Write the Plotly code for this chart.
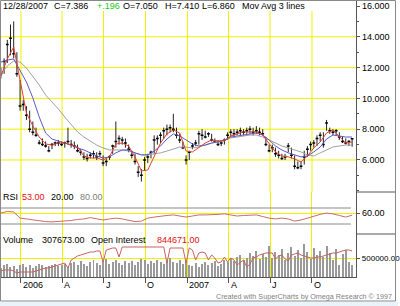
import plotly.graph_objects as go
import pandas as pd

# ---------------- data (weekly bars) ----------------
dates = pd.date_range("2005-11-18", periods=111, freq="7D")

high = [12.0, 12.6, 13.8, 14.8, 15.0, 13.0, 11.2, 9.9, 9.5, 9.2,
        8.5, 8.1, 7.3, 7.4, 7.2, 6.9, 7.1, 7.2, 7.3, 7.2,
        7.2, 8.1, 7.3, 7.2, 7.0, 6.7, 6.5, 6.4, 6.5, 6.6,
        6.5, 6.6, 6.3, 6.1, 6.3, 7.0, 8.5, 7.6, 7.5, 7.4,
        7.0, 6.6, 6.4, 5.6, 5.4, 6.2, 6.4, 6.6, 7.6, 7.6,
        7.8, 8.1, 8.3, 8.3, 9.0, 8.1, 7.7, 7.2, 6.3, 6.6,
        7.1, 7.3, 7.9, 8.0, 7.9, 7.8, 7.7, 7.4, 7.3, 7.2,
        7.4, 7.8, 8.0, 8.0, 8.0, 8.1, 8.0, 8.1, 8.2, 8.1,
        8.2, 8.1, 8.0, 7.5, 7.0, 7.0, 6.8, 6.6, 6.4, 6.4,
        7.1, 6.8, 6.3, 5.9, 5.9, 6.6, 6.9, 7.2, 7.3, 7.6,
        7.8, 7.8, 8.6, 8.1, 8.0, 8.0, 7.8, 7.5, 7.4, 7.3,
        7.41]
low = [11.3, 11.6, 12.3, 12.8, 12.6, 11.4, 9.2, 9.2, 8.6, 7.8,
       7.6, 7.5, 7.0, 6.9, 6.8, 6.5, 6.7, 6.9, 6.9, 6.9,
       6.8, 7.0, 6.8, 6.7, 6.5, 6.3, 6.0, 5.9, 6.1, 6.1,
       6.0, 6.2, 5.6, 5.6, 6.0, 6.4, 6.8, 7.0, 7.0, 6.8,
       6.5, 6.1, 5.7, 4.9, 4.6, 5.3, 5.8, 6.1, 6.4, 7.0,
       7.1, 7.4, 7.6, 7.8, 7.8, 7.4, 7.1, 6.7, 5.7, 6.0,
       6.7, 6.9, 7.0, 7.3, 7.4, 7.5, 7.2, 7.1, 6.9, 6.9,
       7.0, 7.3, 7.5, 7.5, 7.6, 7.6, 7.6, 7.7, 7.7, 7.6,
       7.7, 7.6, 7.6, 6.9, 6.5, 6.5, 6.2, 6.1, 6.0, 6.0,
       6.5, 6.1, 5.4, 5.4, 5.4, 5.7, 6.2, 6.6, 6.8, 6.9,
       7.2, 6.8, 7.9, 7.7, 7.6, 7.6, 7.3, 7.1, 7.0, 6.9,
       6.86]
close = [11.6, 12.4, 13.5, 13.9, 12.9, 11.6, 9.5, 9.6, 8.9, 8.0,
         7.8, 7.6, 7.1, 7.0, 6.9, 6.6, 7.0, 7.1, 7.1, 7.0,
         7.1, 7.2, 7.0, 6.9, 6.6, 6.5, 6.2, 6.1, 6.3, 6.4,
         6.2, 6.4, 5.8, 5.9, 6.2, 6.9, 7.2, 7.4, 7.3, 7.1,
         6.7, 6.3, 5.9, 5.2, 5.0, 6.0, 6.2, 6.5, 7.3, 7.4,
         7.6, 7.9, 8.0, 8.1, 8.0, 7.6, 7.3, 6.8, 6.0, 6.5,
         6.9, 7.1, 7.7, 7.6, 7.5, 7.7, 7.3, 7.2, 7.0, 7.1,
         7.3, 7.6, 7.8, 7.7, 7.8, 7.9, 7.8, 7.9, 8.0, 7.8,
         7.9, 7.8, 7.7, 7.0, 6.6, 6.8, 6.4, 6.3, 6.1, 6.2,
         6.9, 6.3, 5.6, 5.5, 5.6, 6.2, 6.7, 7.0, 7.1, 7.4,
         7.6, 7.0, 8.4, 7.9, 7.8, 7.9, 7.5, 7.2, 7.1, 7.2,
         7.386]

volume = [240000, 320000, 340000, 260000, 290000, 210000, 320000, 340000, 260000, 320000,
          240000, 290000, 340000, 320000, 260000, 290000, 320000, 340000, 290000, 320000,
          340000, 260000, 370000, 390000, 320000, 420000, 340000, 290000, 390000, 450000,
          370000, 320000, 420000, 470000, 340000, 390000, 450000, 370000, 320000, 420000,
          370000, 420000, 320000, 390000, 470000, 450000, 340000, 420000, 370000, 450000,
          390000, 340000, 420000, 500000, 390000, 370000, 450000, 340000, 420000, 320000,
          290000, 370000, 260000, 340000, 390000, 320000, 370000, 420000, 290000, 340000,
          450000, 390000, 470000, 420000, 530000, 580000, 450000, 500000, 630000, 550000,
          680000, 470000, 610000, 530000, 820000, 500000, 660000, 580000, 740000, 450000,
          630000, 790000, 550000, 710000, 500000, 870000, 660000, 470000, 760000, 580000,
          680000, 530000, 820000, 630000, 450000, 740000, 320000, 610000, 710000, 390000,
          307673]

open_interest = [195000, 227000, 227000, 227000, 195000, 130000, 162000, 162000, 162000, 162000,
                 162000, 195000, 227000, 260000, 292000, 292000, 325000, 357000, 390000, 422000,
                 455000, 292000, 552000, 617000, 682000, 715000, 747000, 780000, 812000, 812000,
                 845000, 845000, 487000, 877000, 910000, 942000, 942000, 650000, 975000, 975000,
                 975000, 975000, 975000, 975000, 975000, 975000, 975000, 975000, 975000, 975000,
                 975000, 975000, 455000, 942000, 942000, 942000, 942000, 942000, 455000, 942000,
                 877000, 552000, 780000, 812000, 780000, 552000, 715000, 617000, 455000, 487000,
                 650000, 487000, 617000, 552000, 390000, 487000, 552000, 325000, 422000, 617000,
                 650000, 715000, 747000, 780000, 780000, 780000, 585000, 682000, 715000, 585000,
                 520000, 715000, 747000, 780000, 715000, 682000, 650000, 617000, 617000, 650000,
                 650000, 682000, 715000, 747000, 780000, 780000, 812000, 844671, 877000, 877000,
                 844671]

ma_dates = dates[::2]
ma_fast = [11.45, 12.56, 13.34, 11.2, 9.05, 8.21, 7.49, 7.04, 6.97, 7.1,
           7.1, 6.97, 6.84, 6.26, 6.13, 6.13, 6.0, 6.2, 7.04, 7.1,
           6.91, 6.2, 5.29, 5.35, 6.2, 7.1, 7.69, 7.95, 7.75, 6.58,
           6.52, 6.84, 7.1, 7.3, 7.23, 7.23, 7.56, 7.69, 7.82, 7.82,
           7.82, 7.62, 7.1, 6.52, 6.26, 6.2, 6.07, 5.87, 6.26, 6.78,
           7.17, 7.75, 7.95, 7.49, 7.1, 7.17]
ma_mid = [12.36, 12.49, 12.56, 11.84, 11.06, 10.03, 8.79, 7.75, 7.36, 7.23,
          7.1, 6.97, 6.78, 6.65, 6.46, 6.26, 6.13, 6.2, 6.46, 6.65,
          6.65, 6.46, 6.33, 6.33, 6.58, 6.91, 7.36, 7.69, 7.56, 7.3,
          7.04, 6.91, 6.97, 7.1, 7.17, 7.3, 7.49, 7.56, 7.62, 7.69,
          7.75, 7.62, 7.3, 6.91, 6.65, 6.46, 6.33, 6.2, 6.26, 6.52,
          6.84, 7.36, 7.62, 7.56, 7.49, 7.49]
ma_slow = [11.58, 12.1, 12.43, 12.36, 11.97, 11.45, 10.87, 10.22, 9.77, 9.31,
           8.79, 8.27, 7.82, 7.49, 7.23, 6.97, 6.78, 6.65, 6.65, 6.65,
           6.58, 6.46, 6.33, 6.33, 6.39, 6.46, 6.58, 6.71, 6.84, 6.84,
           6.78, 6.84, 6.97, 7.1, 7.23, 7.3, 7.43, 7.49, 7.56, 7.62,
           7.62, 7.49, 7.3, 7.1, 6.91, 6.78, 6.65, 6.52, 6.33, 6.26,
           6.46, 6.65, 6.84, 6.91, 6.97, 6.97]
rsi = [61, 67, 65, 42, 39, 35, 31, 29, 28, 29,
       31, 33, 37, 39, 44, 39, 35, 39, 42, 39,
       35, 29, 31, 42, 46, 50, 52, 54, 50, 46,
       50, 54, 54, 54, 56, 58, 54, 50, 52, 54,
       54, 48, 42, 39, 42, 39, 31, 35, 42, 50,
       56, 61, 58, 52, 46, 53]
rsi_levels = [20, 80]

price_ticks = [6, 8, 10, 12, 14, 16]
price_grid = [6, 8, 10, 12, 14]
rsi_ticks = [60]
vol_ticks = [500000]
quarter_dates = ["2006-01-01", "2006-04-01", "2006-07-01", "2006-10-01",
                 "2007-01-01", "2007-04-01", "2007-07-01", "2007-10-01"]
quarter_labels = ["2006", "A", "J", "O", "2007", "A", "J", "O"]

# ---------------- layout helpers ----------------
W, H = 400, 306
PX_RIGHT = 358


def py(p):
    return 1 - p / H


FONT = "Liberation Sans, Arial, sans-serif"
YEL = "#f0f000"
AX = "#555555"

fig = go.Figure()

# HLC bars
fig.add_trace(go.Scatter(
    x=dates, y=close, mode="markers",
    marker=dict(symbol="line-ew", size=2, line=dict(width=1.5, color="black")),
    error_y=dict(type="data", symmetric=False,
                 array=[h - c for h, c in zip(high, close)],
                 arrayminus=[c - l for c, l in zip(close, low)],
                 width=0, thickness=1, color="#222222"),
    xaxis="x", yaxis="y"))

# moving averages
fig.add_trace(go.Scatter(x=ma_dates, y=ma_slow, mode="lines",
                         line=dict(color="#a0a0a0", width=1), xaxis="x", yaxis="y"))
fig.add_trace(go.Scatter(x=ma_dates, y=ma_mid, mode="lines",
                         line=dict(color="#5a5ac8", width=1), xaxis="x", yaxis="y"))
fig.add_trace(go.Scatter(x=ma_dates, y=ma_fast, mode="lines",
                         line=dict(color="#e04030", width=1), xaxis="x", yaxis="y"))

# RSI
fig.add_trace(go.Scatter(x=ma_dates, y=rsi, mode="lines",
                         line=dict(color="#cc6a6a", width=1), xaxis="x2", yaxis="y2"))

# Volume
fig.add_trace(go.Bar(x=dates, y=volume, marker=dict(color="#9a9a9a", line=dict(width=0)),
                     width=1.9e8, xaxis="x3", yaxis="y3"))
# Open interest
fig.add_trace(go.Scatter(x=dates, y=open_interest, mode="lines",
                         line=dict(color="#c86060", width=1), xaxis="x3", yaxis="y4"))

xrange = ["2005-11-16", "2008-01-06"]
xdom = [0, PX_RIGHT / W]
common_x = dict(type="date", range=xrange, domain=xdom, tickvals=quarter_dates,
                showgrid=True, gridcolor=YEL, gridwidth=1, showticklabels=False,
                zeroline=False)

fig.update_layout(
    width=W, height=H, margin=dict(l=0, r=0, t=0, b=0),
    paper_bgcolor="white", plot_bgcolor="white", showlegend=False,
    font=dict(family=FONT, size=9, color="black"),
    xaxis=dict(common_x, anchor="y", ticks="", showgrid=False),
    xaxis2=dict(common_x, anchor="y2", matches="x", ticks=""),
    xaxis3=dict(common_x, anchor="y3", matches="x", ticks="outside", ticklen=5,
                tickcolor=AX, showline=True, linecolor=AX, linewidth=1),
    yaxis=dict(domain=[py(192), py(0)], range=[3.92, 16.39], side="right", anchor="x",
               tickvals=price_ticks, ticktext=["%.3f" % v for v in price_ticks],
               showgrid=False, ticks="outside", ticklen=3, tickcolor=AX,
               minor=dict(dtick=1, ticks="outside", ticklen=2, tickcolor=AX, showgrid=False),
               showline=True, linecolor=AX, zeroline=False, tickfont=dict(size=9)),
    yaxis2=dict(domain=[py(234), py(192)], range=[-17.5, 140], side="right", anchor="x2",
                tickvals=rsi_ticks, ticktext=["%.2f" % v for v in rsi_ticks],
                showgrid=True, gridcolor=YEL, ticks="outside", ticklen=3, tickcolor=AX,
                showline=True, linecolor=AX, zeroline=False, tickfont=dict(size=9)),
    yaxis3=dict(domain=[py(277), py(234)], range=[0, 1131600], side="right", anchor="x3",
                tickvals=vol_ticks, ticktext=["%.2f" % v for v in vol_ticks],
                showgrid=True, gridcolor=YEL, ticks="outside", ticklen=3, tickcolor=AX,
                showline=True, linecolor=AX, zeroline=False, tickfont=dict(size=8)),
    yaxis4=dict(overlaying="y3", range=[0, 1397000], visible=False, anchor="x3"),
    bargap=0,
)

shapes = []
# price-panel grid (stops below the header strip)
for d in quarter_dates:
    shapes.append(dict(type="line", xref="x", yref="y domain", x0=d, x1=d,
                       y0=0, y1=1 - 11 / 192, line=dict(color=YEL, width=1), layer="below"))
for v in price_grid:
    shapes.append(dict(type="line", xref="x domain", yref="y", x0=0, x1=1,
                       y0=v, y1=v, line=dict(color=YEL, width=1), layer="below"))
# RSI levels
for lv in rsi_levels:
    shapes.append(dict(type="line", xref="x2 domain", yref="y2", x0=0, x1=0.985,
                       y0=lv, y1=lv, line=dict(color="#8a8a8a", width=1)))
# separators in right margin
for p in (192, 234):
    shapes.append(dict(type="line", xref="paper", yref="paper", x0=PX_RIGHT / W,
                       x1=397 / W, y0=py(p), y1=py(p), line=dict(color=AX, width=1)))
# outer frame
shapes.append(dict(type="rect", xref="paper", yref="paper", x0=0.5 / W, x1=397.5 / W,
                   y0=py(301), y1=py(0.5), line=dict(color="#888888", width=1)))
# page background strip at bottom
shapes.append(dict(type="rect", xref="paper", yref="paper", x0=0, x1=1,
                   y0=0, y1=py(302), fillcolor="#e8f4fa", line=dict(width=0)))
fig.update_layout(shapes=shapes)

ann = []


def txt(x, y, s, color="black", anchor="left", size=9):
    ann.append(dict(x=x / W, y=py(y), xref="paper", yref="paper", text=s, showarrow=False,
                    xanchor=anchor, yanchor="middle", font=dict(size=size, color=color)))


# header
txt(1, 6, "12/28/2007")
txt(52, 6, "C=7.386")
txt(95, 6, "+.196", color="#19c819")
txt(122, 6, "O=7.050")
txt(164, 6, "H=7.410")
txt(201, 6, "L=6.860")
txt(241, 6, "Mov Avg 3 lines")
# RSI label
txt(1, 197, "RSI")
txt(20, 197, "53.00", color="#e01010")
txt(49, 197, "20.00")
txt(78, 197, "80.00", color="#808080")
# Volume label
txt(1, 240, "Volume")
txt(40, 240, "307673.00")
txt(89, 240, "Open Interest")
txt(156, 240, "844671.00", color="#e01010")
# x tick labels
for d, lab in zip(quarter_dates, quarter_labels):
    ann.append(dict(x=d, y=py(285), xref="x3", yref="paper", text=lab, showarrow=False,
                    xanchor="left", yanchor="middle", xshift=0, font=dict(size=9)))
txt(396, 296, "Created with SuperCharts by Omega Research \u00a9 1997", color="#808080",
    anchor="right", size=7.2)
fig.update_layout(annotations=ann)

fig.write_html("out.html")
